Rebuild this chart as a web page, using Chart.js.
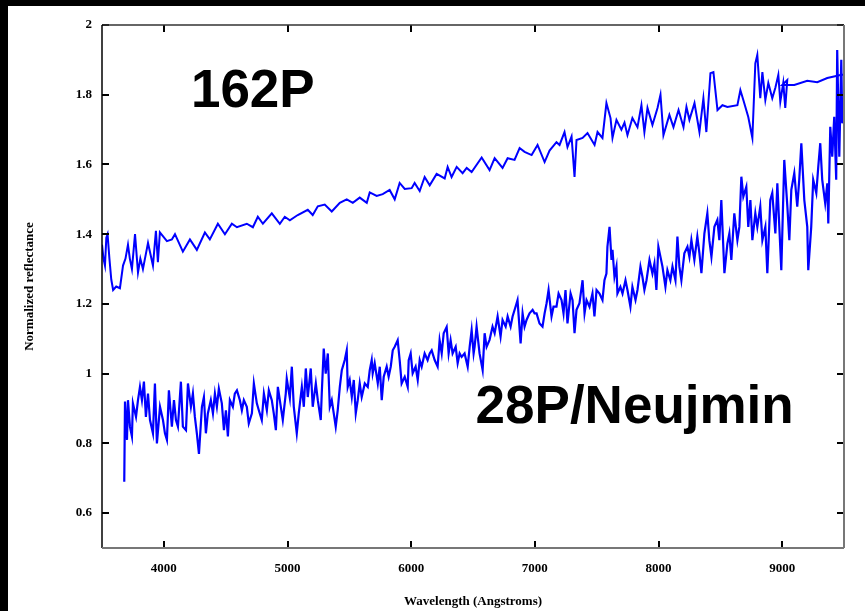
<!DOCTYPE html>
<html>
<head>
<meta charset="utf-8">
<title>162P and 28P/Neujmin reflectance</title>
<script src="https://cdn.jsdelivr.net/npm/chart.js@4.4.1/dist/chart.umd.min.js"></script>
<style>
    html, body { margin: 0; padding: 0; background: #000; }
    #wrap { position: absolute; left: 0; top: 0; width: 865px; height: 611px; }
</style>
</head>
<body>
<div id="wrap"><canvas id="spectra" width="865" height="611"></canvas></div>
<script>
// 162P - wavelength (Angstroms) and normalized reflectance
const lam162 = [
    3500, 3512, 3524, 3535, 3545, 3560, 3575, 3590, 3615, 3645,
    3670, 3690, 3710, 3725, 3742, 3767, 3791, 3810, 3831, 3872,
    3912, 3936, 3952, 3968, 4025, 4065, 4090, 4154, 4211, 4267,
    4332, 4372, 4437, 4494, 4550, 4591, 4671, 4720, 4760, 4801,
    4873, 4938, 4978, 5019, 5083, 5164, 5204, 5245, 5301, 5358,
    5423, 5479, 5528, 5584, 5641, 5665, 5721, 5770, 5826, 5867,
    5907, 5948, 6004, 6028, 6069, 6109, 6150, 6206, 6271, 6295,
    6327, 6368, 6416, 6449, 6489, 6570, 6634, 6675, 6739, 6780,
    6836, 6877, 6917, 6974, 7022, 7079, 7119, 7175, 7200, 7240,
    7264, 7297, 7321, 7337, 7386, 7426, 7483, 7507, 7547, 7579,
    7612, 7628, 7660, 7700, 7725, 7749, 7789, 7830, 7862, 7886,
    7911, 7951, 7992, 8016, 8040, 8088, 8121, 8162, 8202, 8226,
    8250, 8291, 8331, 8363, 8387, 8420, 8444, 8477, 8517, 8557,
    8638, 8662, 8686, 8726, 8759, 8783, 8799, 8823, 8840, 8864,
    8888, 8920, 8945, 8969, 8985, 9009, 9025, 9041, 9001, 9098,
    9203, 9284, 9365, 9437, 9478, 9500
];
const refl162 = [
    1.37, 1.33, 1.31, 1.39, 1.40, 1.33, 1.27, 1.24, 1.25, 1.245,
    1.31, 1.33, 1.37, 1.33, 1.30, 1.40, 1.29, 1.33, 1.30, 1.375,
    1.31, 1.41, 1.32, 1.405, 1.38, 1.385, 1.40, 1.35, 1.385, 1.355,
    1.405, 1.385, 1.43, 1.40, 1.43, 1.42, 1.43, 1.42, 1.45, 1.43,
    1.46, 1.43, 1.45, 1.44, 1.455, 1.47, 1.455, 1.48, 1.485, 1.465,
    1.49, 1.50, 1.49, 1.505, 1.49, 1.52, 1.51, 1.515, 1.527, 1.50,
    1.547, 1.53, 1.532, 1.547, 1.524, 1.564, 1.54, 1.573, 1.56, 1.593,
    1.564, 1.593, 1.575, 1.59, 1.578, 1.62, 1.584, 1.618, 1.59, 1.618,
    1.613, 1.647, 1.636, 1.627, 1.656, 1.607, 1.64, 1.664, 1.656, 1.693,
    1.65, 1.68, 1.564, 1.67, 1.676, 1.69, 1.656, 1.693, 1.676, 1.776,
    1.733, 1.676, 1.728, 1.70, 1.72, 1.684, 1.733, 1.707, 1.77, 1.693,
    1.762, 1.713, 1.762, 1.80, 1.684, 1.742, 1.707, 1.756, 1.707, 1.765,
    1.728, 1.776, 1.693, 1.79, 1.693, 1.862, 1.865, 1.756, 1.77, 1.765,
    1.77, 1.813, 1.785, 1.736, 1.676, 1.89, 1.914, 1.79, 1.865, 1.785,
    1.834, 1.79, 1.82, 1.857, 1.78, 1.834, 1.762, 1.842, 1.828, 1.828,
    1.84, 1.836, 1.848, 1.854, 1.857, 1.857
];

// 28P/Neujmin
const lam28 = [
    3680, 3686, 3702, 3710, 3726, 3742, 3750, 3775, 3791, 3807,
    3823, 3839, 3855, 3872, 3888, 3912, 3928, 3944, 3969, 3993,
    4009, 4025, 4041, 4065, 4082, 4098, 4114, 4138, 4154, 4179,
    4195, 4219, 4235, 4251, 4267, 4284, 4308, 4324, 4340, 4356,
    4380, 4397, 4413, 4429, 4445, 4469, 4486, 4502, 4518, 4534,
    4558, 4574, 4591, 4615, 4631, 4647, 4671, 4687, 4712, 4728,
    4752, 4768, 4792, 4809, 4833, 4849, 4873, 4889, 4906, 4922,
    4946, 4962, 4986, 4994, 5019, 5035, 5051, 5075, 5091, 5116,
    5132, 5148, 5164, 5188, 5204, 5229, 5245, 5269, 5277, 5293,
    5309, 5326, 5342, 5358, 5374, 5390, 5406, 5423, 5439, 5463,
    5479, 5487, 5503, 5520, 5536, 5552, 5568, 5584, 5600, 5625,
    5649, 5665, 5681, 5689, 5705, 5730, 5746, 5762, 5778, 5802,
    5818, 5835, 5851, 5867, 5891, 5907, 5923, 5948, 5972, 5980,
    5996, 6012, 6036, 6053, 6069, 6085, 6109, 6133, 6150, 6166,
    6190, 6214, 6230, 6247, 6263, 6287, 6303, 6319, 6335, 6360,
    6376, 6392, 6408, 6432, 6457, 6473, 6489, 6505, 6513, 6529,
    6553, 6578, 6594, 6610, 6634, 6658, 6675, 6699, 6723, 6739,
    6764, 6780, 6804, 6820, 6844, 6860, 6885, 6901, 6917, 6933,
    6957, 6982, 6998, 7014, 7038, 7062, 7079, 7095, 7111, 7135,
    7151, 7175, 7192, 7216, 7232, 7248, 7264, 7289, 7305, 7321,
    7337, 7361, 7386, 7402, 7418, 7442, 7466, 7482, 7499, 7523,
    7547, 7563, 7579, 7587, 7604, 7620, 7628, 7644, 7660, 7668,
    7692, 7709, 7733, 7749, 7773, 7789, 7814, 7830, 7854, 7870,
    7886, 7903, 7927, 7951, 7967, 7983, 7999, 8016, 8032, 8056,
    8072, 8096, 8113, 8137, 8153, 8169, 8185, 8209, 8234, 8250,
    8266, 8290, 8314, 8331, 8347, 8371, 8395, 8411, 8428, 8452,
    8476, 8492, 8508, 8533, 8557, 8573, 8589, 8613, 8638, 8654,
    8670, 8686, 8710, 8726, 8743, 8759, 8783, 8799, 8823, 8840,
    8864, 8880, 8904, 8920, 8945, 8961, 8977, 8993, 9017, 9042,
    9058, 9074, 9098, 9122, 9138, 9155, 9179, 9203, 9211, 9235,
    9251, 9276, 9292, 9308, 9324, 9348, 9365, 9373, 9389, 9405,
    9421, 9437, 9445, 9462, 9478, 9486, 9494
];
const refl28 = [
    0.69, 0.92, 0.81, 0.924, 0.848, 0.82, 0.915, 0.876, 0.924, 0.962,
    0.924, 0.977, 0.876, 0.943, 0.867, 0.829, 0.972, 0.80, 0.905, 0.867,
    0.829, 0.81, 0.952, 0.848, 0.924, 0.867, 0.848, 0.977, 0.848, 0.838,
    0.972, 0.905, 0.943, 0.876, 0.829, 0.77, 0.905, 0.933, 0.829, 0.886,
    0.924, 0.886, 0.943, 0.905, 0.957, 0.915, 0.838, 0.895, 0.82, 0.924,
    0.905, 0.943, 0.952, 0.924, 0.895, 0.924, 0.905, 0.857, 0.886, 0.972,
    0.915, 0.895, 0.867, 0.943, 0.895, 0.952, 0.924, 0.886, 0.838, 0.962,
    0.905, 0.867, 0.943, 0.986, 0.93, 1.02, 0.905, 0.829, 0.886, 0.962,
    0.905, 1.015, 0.933, 1.015, 0.905, 0.972, 0.924, 0.867, 0.943, 1.072,
    1.00, 1.058, 0.905, 0.924, 0.886, 0.848, 0.895, 0.962, 1.01, 1.039,
    1.067, 0.962, 0.982, 0.933, 0.982, 0.886, 0.924, 0.972, 0.933, 0.972,
    0.962, 1.01, 1.039, 1.001, 1.03, 0.972, 1.02, 0.924, 0.991, 1.02,
    0.991, 1.02, 1.067, 1.077, 1.096, 1.039, 0.972, 0.991, 0.962, 1.039,
    1.058, 1.001, 1.02, 0.982, 1.039, 1.02, 1.058, 1.039, 1.058, 1.067,
    1.039, 1.02, 1.096, 1.058, 1.116, 1.134, 1.058, 1.096, 1.058, 1.077,
    1.03, 1.058, 1.048, 1.058, 1.02, 1.077, 1.125, 1.058, 1.077, 1.135,
    1.058, 1.01, 1.116, 1.077, 1.097, 1.135, 1.116, 1.164, 1.106, 1.154,
    1.135, 1.164, 1.135, 1.164, 1.192, 1.211, 1.087, 1.173, 1.135, 1.154,
    1.173, 1.183, 1.173, 1.173, 1.144, 1.135, 1.173, 1.202, 1.24, 1.164,
    1.192, 1.192, 1.23, 1.211, 1.173, 1.24, 1.144, 1.23, 1.211, 1.116,
    1.183, 1.202, 1.268, 1.173, 1.211, 1.192, 1.23, 1.164, 1.24, 1.23,
    1.211, 1.268, 1.287, 1.364, 1.421, 1.326, 1.355, 1.278, 1.307, 1.23,
    1.249, 1.23, 1.268, 1.24, 1.192, 1.249, 1.211, 1.24, 1.307, 1.278,
    1.24, 1.268, 1.326, 1.287, 1.316, 1.24, 1.364, 1.335, 1.307, 1.249,
    1.297, 1.268, 1.307, 1.268, 1.393, 1.307, 1.268, 1.345, 1.364, 1.335,
    1.383, 1.326, 1.393, 1.345, 1.288, 1.402, 1.46, 1.383, 1.335, 1.421,
    1.441, 1.383, 1.498, 1.288, 1.373, 1.402, 1.326, 1.46, 1.383, 1.421,
    1.565, 1.508, 1.536, 1.421, 1.498, 1.383, 1.46, 1.421, 1.479, 1.383,
    1.421, 1.288, 1.498, 1.518, 1.402, 1.546, 1.421, 1.297, 1.613, 1.479,
    1.383, 1.527, 1.575, 1.479, 1.556, 1.661, 1.498, 1.421, 1.297, 1.421,
    1.556, 1.518, 1.594, 1.661, 1.556, 1.489, 1.546, 1.431, 1.708, 1.622,
    1.737, 1.556, 1.928, 1.622, 1.90, 1.718, 1.75
];

const xTicks = [4000, 5000, 6000, 7000, 8000, 9000];
const yTicks = [0.6, 0.8, 1.0, 1.2, 1.4, 1.6, 1.8, 2.0];

// object names written on the plot, anchored in data units
const labelText = ['162P', '28P/Neujmin'];
const labelLam = [4219, 6521];
const labelRefl = [1.765, 0.858];

if (lam162.length !== refl162.length || lam28.length !== refl28.length) {
    console.error('series length mismatch', lam162.length, refl162.length, lam28.length, refl28.length);
}

const serif = '"Liberation Serif", "Times New Roman", Times, serif';

// black frame round the page, white sheet, inward tick marks, box and names
const sheet = {
    id: 'sheet',
    beforeDraw(chart) {
        const ctx = chart.ctx;
        ctx.save();
        ctx.fillStyle = '#000';
        ctx.fillRect(0, 0, chart.width, chart.height);
        ctx.fillStyle = '#fff';
        ctx.fillRect(8, 6, chart.width - 8, chart.height - 6);
        ctx.restore();
    },
    afterDatasetsDraw(chart) {
        const { ctx, chartArea: a, scales: { x, y } } = chart;
        ctx.save();

        // tick marks pointing into the plot
        ctx.strokeStyle = '#000';
        ctx.lineWidth = 2;
        ctx.beginPath();
        yTicks.forEach(v => {
            const py = Math.round(y.getPixelForValue(v));
            ctx.moveTo(a.left, py);
            ctx.lineTo(a.left + 7, py);
            ctx.moveTo(a.right, py);
            ctx.lineTo(a.right - 7, py);
        });
        xTicks.forEach(v => {
            const px = Math.round(x.getPixelForValue(v));
            ctx.moveTo(px, a.bottom);
            ctx.lineTo(px, a.bottom - 7);
            ctx.moveTo(px, a.top);
            ctx.lineTo(px, a.top + 7);
        });
        ctx.stroke();

        // box
        const edge = (x1, y1, x2, y2, color, w) => {
            ctx.strokeStyle = color;
            ctx.lineWidth = w;
            ctx.beginPath();
            ctx.moveTo(x1, y1);
            ctx.lineTo(x2, y2);
            ctx.stroke();
        };
        edge(a.left, a.top, a.right, a.top, '#333', 1.5);
        edge(a.left, a.top, a.left, a.bottom, '#000', 1.5);
        edge(a.left, a.bottom, a.right, a.bottom, '#777', 2);
        edge(a.right, a.top, a.right, a.bottom, '#777', 2);

        // names
        ctx.fillStyle = '#000';
        ctx.font = 'bold 53px "Liberation Sans", Arial, Helvetica, sans-serif';
        ctx.textAlign = 'left';
        ctx.textBaseline = 'alphabetic';
        labelText.forEach((t, i) => {
            ctx.fillText(t, x.getPixelForValue(labelLam[i]), y.getPixelForValue(labelRefl[i]));
        });

        ctx.restore();
    }
};

const toPoints = (lam, refl) => lam.map((w, i) => ({ x: w, y: refl[i] }));

new Chart(document.getElementById('spectra').getContext('2d'), {
    type: 'scatter',
    data: {
        datasets: [
            {
                label: '162P',
                data: toPoints(lam162, refl162),
                showLine: true,
                borderColor: '#0000ff',
                borderWidth: 2,
                pointRadius: 0,
                tension: 0,
            },
            {
                label: '28P/Neujmin',
                data: toPoints(lam28, refl28),
                showLine: true,
                borderColor: '#0000ff',
                borderWidth: 2.2,
                pointRadius: 0,
                tension: 0,
            },
        ],
    },
    options: {
        responsive: false,
        animation: false,
        events: [],
        layout: { padding: { left: 0, top: 25, right: 21, bottom: 0 } },
        plugins: {
            legend: { display: false },
            tooltip: { enabled: false },
        },
        scales: {
            x: {
                type: 'linear',
                min: 3500,
                max: 9500,
                afterBuildTicks: s => { s.ticks = xTicks.map(v => ({ value: v })); },
                afterFit: s => { s.height = 63; },
                grid: { display: false, drawTicks: false },
                border: { display: false },
                ticks: {
                    color: '#000',
                    padding: 13,
                    autoSkip: false,
                    maxRotation: 0,
                    font: { family: serif, size: 13, weight: 'bold' },
                    callback: v => String(v),
                },
                title: {
                    display: true,
                    text: 'Wavelength (Angstroms)',
                    color: '#000',
                    font: { family: serif, size: 13, weight: 'bold' },
                    padding: { top: 0, bottom: 2 },
                },
            },
            y: {
                type: 'linear',
                min: 0.5,
                max: 2,
                afterBuildTicks: s => { s.ticks = yTicks.map(v => ({ value: v })); },
                afterFit: s => { s.width = 102; },
                grid: { display: false, drawTicks: false },
                border: { display: false },
                ticks: {
                    color: '#000',
                    padding: 10,
                    font: { family: serif, size: 13, weight: 'bold' },
                    callback: v => String(+v.toFixed(1)),
                },
                title: {
                    display: true,
                    text: 'Normalized reflectance',
                    color: '#000',
                    font: { family: serif, size: 13, weight: 'bold' },
                    padding: { top: 22, bottom: 0 },
                },
            },
        },
    },
    plugins: [sheet],
});
</script>
</body>
</html>
